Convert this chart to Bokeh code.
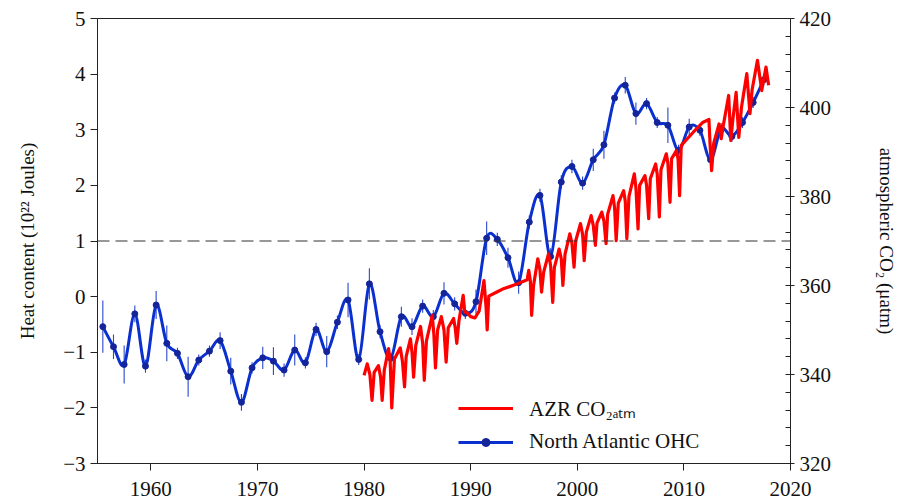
import numpy as np
from bokeh.plotting import figure
from bokeh.models import Range1d, LinearAxis, Span, Legend, LegendItem, FixedTicker, ColumnDataSource
from bokeh.embed import file_html
from bokeh.resources import INLINE

# ---------------- data ----------------
x_ticks = [1960, 1970, 1980, 1990, 2000, 2010, 2020]
ohc_ticks = [-3, -2, -1, 0, 1, 2, 3, 4, 5]
co2_ticks = [320, 340, 360, 380, 400, 420]
co2_minor = [324, 328, 332, 336, 344, 348, 352, 356, 364, 368, 372, 376,
             384, 388, 392, 396, 404, 408, 412, 416]
ref_level = 1.0

ohc_year = [y + 0.5 for y in range(1955, 2018)]
ohc_val = [-0.54, -0.90, -1.22, -0.31, -1.25, -0.15, -0.84, -1.02, -1.44, -1.14,
           -0.98, -0.79, -1.34, -1.90, -1.28, -1.10, -1.16, -1.32, -0.96, -1.19,
           -0.59, -0.99, -0.46, -0.06, -1.13, 0.23, -0.63, -1.11, -0.36, -0.54,
           -0.17, -0.36, 0.06, -0.13, -0.30, -0.09, 1.05, 1.03, 0.70, 0.25,
           1.34, 1.82, 0.72, 2.06, 2.34, 2.04, 2.46, 2.73, 3.57, 3.80,
           3.29, 3.47, 3.13, 3.08, 2.63, 3.05, 2.99, 2.46, 3.02, 2.88,
           3.13, 3.49, 3.90]
ohc_err = [0.47, 0.22, 0.34, 0.15, 0.12, 0.25, 0.32, 0.10, 0.36, 0.10,
           0.10, 0.15, 0.24, 0.15, 0.10, 0.20, 0.25, 0.12, 0.28, 0.10,
           0.12, 0.28, 0.12, 0.31, 0.10, 0.28, 0.12, 0.10, 0.18, 0.15,
           0.12, 0.12, 0.20, 0.12, 0.10, 0.22, 0.30, 0.12, 0.18, 0.20,
           0.12, 0.12, 0.15, 0.12, 0.12, 0.12, 0.20, 0.25, 0.10, 0.15,
           0.20, 0.10, 0.10, 0.32, 0.10, 0.15, 0.10, 0.10, 0.10, 0.10,
           0.10, 0.10, 0.10]

co2_t = [1980.00, 1980.30, 1980.55, 1980.75, 1980.95, 1981.35, 1981.55, 1981.70, 1981.90,
         1982.30, 1982.45, 1982.60, 1982.85, 1983.40, 1983.60, 1983.80, 1983.95,
         1984.35, 1984.50, 1984.65, 1984.85, 1985.30, 1985.50, 1985.65, 1985.85,
         1986.40, 1986.55, 1986.70, 1986.90, 1987.25, 1987.50, 1987.70, 1987.90,
         1988.40, 1988.55, 1988.70, 1988.90, 1989.30, 1989.45, 1989.60,
         1990.00, 1990.40, 1990.80, 1991.25, 1991.45, 1991.55, 1991.70,
         1992.50, 1993.00, 1994.20, 1995.30,
         1995.45, 1995.60, 1995.72, 1995.90, 1996.30, 1996.50, 1996.65, 1996.85,
         1997.30, 1997.50, 1997.70, 1997.85, 1998.30, 1998.50, 1998.65, 1998.85,
         1999.30, 1999.50, 1999.70, 1999.85, 2000.30, 2000.50, 2000.65, 2000.85,
         2001.30, 2001.50, 2001.70, 2001.85, 2002.30, 2002.50, 2002.70, 2002.85,
         2003.35, 2003.50, 2003.65, 2003.85, 2004.35, 2004.50, 2004.65, 2004.85,
         2005.35, 2005.50, 2005.70, 2005.85, 2006.35, 2006.50, 2006.70, 2006.85,
         2007.35, 2007.50, 2007.70, 2007.85, 2008.35, 2008.50, 2008.70, 2008.85,
         2009.30, 2009.45, 2009.60, 2009.75, 2010.90, 2011.80, 2012.35,
         2012.45, 2012.60, 2012.80, 2013.30, 2013.50, 2013.70, 2014.20, 2014.40,
         2014.60, 2014.90, 2015.15, 2015.40, 2015.90, 2016.20, 2016.40, 2016.90,
         2017.30, 2017.70, 2017.95]
co2_v = [339.8, 342.4, 340.0, 334.2, 340.5, 342.0, 339.5, 334.2, 341.0,
         345.8, 343.0, 332.5, 343.5, 346.0, 343.0, 337.2, 344.0,
         348.0, 345.0, 339.4, 346.5, 350.8, 347.0, 338.7, 347.5,
         353.3, 349.0, 341.5, 350.0, 353.0, 350.0, 342.8, 350.5,
         352.6, 350.5, 347.0, 352.0, 357.8, 354.0, 354.0,
         353.0, 352.7, 354.3, 361.1, 355.0, 350.0, 357.6,
         358.6, 359.2, 360.2, 361.3,
         363.4, 361.0, 353.3, 360.0, 366.0, 363.5, 358.5, 363.0,
         367.1, 364.5, 356.2, 364.0, 368.2, 366.0, 360.0, 367.0,
         371.6, 369.5, 364.1, 370.0, 373.9, 371.5, 365.6, 372.0,
         375.7, 373.5, 369.0, 374.0, 376.5, 374.5, 369.4, 376.0,
         380.2, 377.5, 370.1, 378.5, 381.3, 379.0, 370.5, 380.0,
         385.1, 382.0, 372.7, 382.5, 384.7, 382.5, 375.0, 384.0,
         387.3, 385.0, 375.4, 386.0, 389.6, 387.5, 378.7, 388.5,
         390.3, 388.5, 380.2, 391.5, 394.5, 396.7, 397.3,
         392.0, 385.8, 392.0, 396.3, 393.0, 396.0, 402.7, 392.6,
         397.5, 403.4, 393.3, 400.0, 407.6, 398.6, 404.0, 410.6,
         403.8, 409.1, 405.0]

# ---------------- style ----------------
FONT = "Liberation Serif"
BLUE = "#0a30d0"
NAVY = "#14249a"
RED = "#ff0000"

p = figure(width=900, height=500, x_range=Range1d(1955, 2020), y_range=Range1d(-3, 5),
           output_backend="svg", toolbar_location=None,
           min_border_left=97, min_border_right=103, min_border_top=18, min_border_bottom=37)
p.xgrid.visible = False
p.ygrid.visible = False
p.outline_line_color = "#222222"
p.outline_line_width = 1
p.background_fill_color = "white"
p.border_fill_color = "white"

p.extra_y_ranges = {"co2": Range1d(320, 420)}

# dashed reference line
p.add_layout(Span(location=ref_level, dimension="width", line_color="#333333",
                  line_width=1.2, line_dash="12 6"))

# OHC smooth curve (Catmull-Rom bezier through the annual points)
x = np.array(ohc_year, dtype=float)
y = np.array(ohc_val, dtype=float)
n = len(x)
xp = np.concatenate([[x[0]], x, [x[-1]]])
yp = np.concatenate([[y[0]], y, [y[-1]]])
bz = ColumnDataSource(dict(
    x0=xp[1:n], y0=yp[1:n], x1=xp[2:n + 1], y1=yp[2:n + 1],
    cx0=xp[1:n] + (xp[2:n + 1] - xp[0:n - 1]) / 6.0,
    cy0=yp[1:n] + (yp[2:n + 1] - yp[0:n - 1]) / 6.0,
    cx1=xp[2:n + 1] - (xp[3:n + 2] - xp[1:n]) / 6.0,
    cy1=yp[2:n + 1] - (yp[3:n + 2] - yp[1:n]) / 6.0,
))

err_src = ColumnDataSource(dict(x=x, lo=y - np.array(ohc_err), hi=y + np.array(ohc_err)))
p.segment(x0="x", y0="lo", x1="x", y1="hi", source=err_src, line_color="#2a48c8", line_width=1.1)
curve = p.bezier(x0="x0", y0="y0", x1="x1", y1="y1", cx0="cx0", cy0="cy0", cx1="cx1", cy1="cy1",
                 source=bz, line_color=BLUE, line_width=3)
pts = p.scatter(x=ohc_year, y=ohc_val, size=6, fill_color=NAVY, line_color=NAVY)

red = p.line(x=co2_t, y=co2_v, y_range_name="co2", line_color=RED, line_width=3.2,
             line_join="round")

# axes
p.xaxis.ticker = FixedTicker(ticks=x_ticks, minor_ticks=[])
p.yaxis.ticker = FixedTicker(ticks=ohc_ticks, minor_ticks=[])
p.yaxis.axis_label = "Heat content (10²² Joules)"

right = LinearAxis(y_range_name="co2", ticker=FixedTicker(ticks=co2_ticks, minor_ticks=co2_minor),
                   axis_label="atmospheric CO₂ (μatm)")
p.add_layout(right, "right")

for ax in [p.xaxis[0], p.yaxis[0], right]:
    ax.major_label_text_font = FONT
    ax.major_label_text_font_size = "21px"
    ax.major_label_text_color = "#111111"
    ax.axis_label_text_font = FONT
    ax.axis_label_text_font_size = "19px"
    ax.axis_label_text_font_style = "normal"
    ax.axis_label_text_color = "#111111"
    ax.axis_line_color = "#222222"
    ax.major_tick_line_color = "#222222"
    ax.minor_tick_line_color = "#222222"
    ax.major_tick_out = 7
    ax.major_tick_in = 0
    ax.minor_tick_out = 0
    ax.minor_tick_in = 0
right.minor_tick_in = 5
right.major_tick_in = 5
right.major_tick_out = 4
right.axis_label_standoff = 42
p.yaxis[0].axis_label_standoff = 22
p.xaxis[0].major_label_standoff = 11

legend = Legend(items=[LegendItem(label="AZR CO₂ₐₜₘ", renderers=[red]),
                       LegendItem(label="North Atlantic OHC", renderers=[curve, pts])],
                location=(361, 9), padding=0, margin=0, spacing=7,
                glyph_width=55, glyph_height=20, label_height=20, label_standoff=16,
                border_line_alpha=0, background_fill_alpha=0,
                label_text_font=FONT, label_text_font_size="21px", label_text_color="#111111")
p.add_layout(legend)

open("out.html", "w").write(file_html(p, INLINE))
